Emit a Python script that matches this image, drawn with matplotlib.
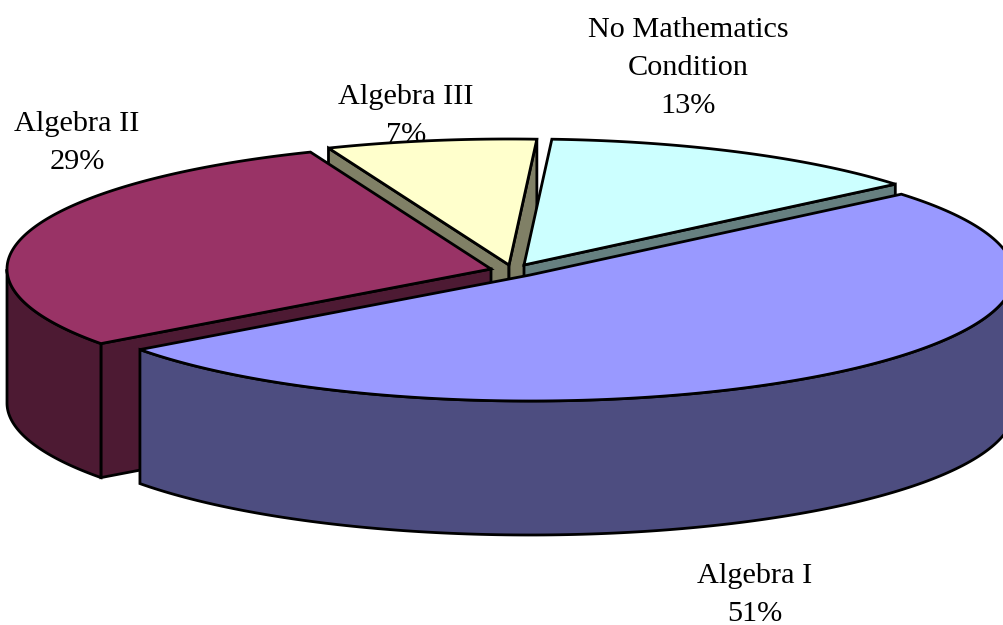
import numpy as np
import matplotlib
matplotlib.use("Agg")
import matplotlib.pyplot as plt
from matplotlib.patches import Polygon

labels = ["Algebra I", "Algebra II", "Algebra III", "No Mathematics\nCondition"]
values = [51, 29, 7, 13]
pct_text = ["51%", "29%", "7%", "13%"]
top_colors = ["#9999FF", "#993366", "#FFFFCC", "#CCFFFF"]
wall_colors = ["#4D4D80", "#4D1A33", "#808066", "#668080"]
label_xy = [(755, 595), (77, 143), (406, 116), (688, 68)]
apex_xy = [(530, 275), (491, 269), (509, 265), (524, 265)]
draw_order = [2, 3, 1, 0]

start_angle = 39.9
rx, ry, depth = 484, 126, 134

fig = plt.figure(figsize=(10.04, 6.25), dpi=100)
ax = fig.add_axes([0, 0, 1, 1])
ax.set_xlim(0, 1004)
ax.set_ylim(625, 0)
ax.axis("off")

total = sum(values)
spans = [v / total * 360 for v in values]
ends = start_angle - np.cumsum(spans)
starts = ends + np.array(spans)

EC = dict(edgecolor="black", linewidth=2.0, joinstyle="miter")
for i in draw_order:
    cx, cy = apex_xy[i]
    t = np.radians(np.linspace(starts[i], ends[i], 200))
    rim = np.column_stack([cx + rx * np.cos(t), cy - ry * np.sin(t)])
    down = np.array([0, depth])
    apex = np.array([cx, cy])
    if np.cos(t[0]) < 0:
        b = rim[0]
        ax.add_patch(Polygon([apex, b, b + down, apex + down], closed=True,
                             facecolor=wall_colors[i], **EC))
    if np.cos(t[-1]) > 0:
        b = rim[-1]
        ax.add_patch(Polygon([apex, b, b + down, apex + down], closed=True,
                             facecolor=wall_colors[i], **EC))
    vis = np.sin(t) < 0
    if vis.any():
        seg = rim[vis]
        ax.add_patch(Polygon(np.vstack([seg, (seg + down)[::-1]]), closed=True,
                             facecolor=wall_colors[i], **EC))
    ax.add_patch(Polygon(np.vstack([apex, rim]), closed=True,
                         facecolor=top_colors[i], **EC))

for lab, pct, (x, y) in zip(labels, pct_text, label_xy):
    ax.text(x, y, lab + "\n" + pct, ha="center", va="center", fontsize=21.8,
            family="Liberation Serif", linespacing=1.58, color="black", zorder=0)

fig.savefig("out.png", dpi=100)
